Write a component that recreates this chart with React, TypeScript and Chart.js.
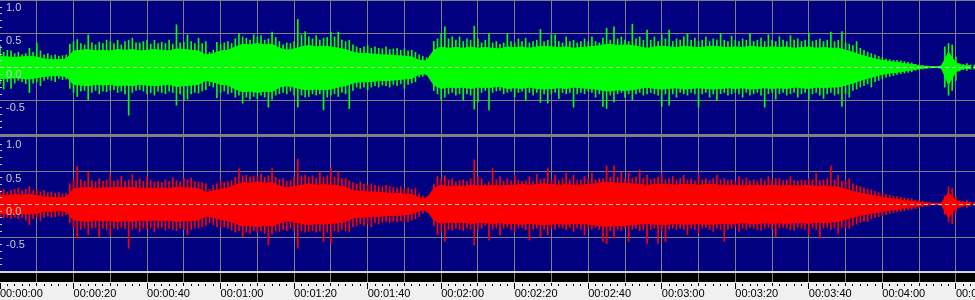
import React, { useEffect, useRef } from 'react';
import { Chart, registerables } from 'chart.js';

Chart.register(...registerables);

// ---- axis text ----
const TIME_LABELS = [
  '00:00:00', '00:00:20', '00:00:40', '00:01:00', '00:01:20', '00:01:40', '00:02:00',
  '00:02:20', '00:02:40', '00:03:00', '00:03:20', '00:03:40', '00:04:00', '00:04:20',
];
const Y_TICK_VALUES = [1, 0.5, 0, -0.5];
const Y_TICK_LABELS = ['1.0', '0.5', '0.0', '-0.5'];
const X_MAX_S = 265.2;

// ---- peak envelope per second (t = 0..265 s) ----
const GREEN_PEAK_HI = [
  .32, .22, .25, .24, .20, .22, .18, .20, .28, .22,
  .36, .24, .18, .20, .17, .18, .16, .17, .18, .34,
  .38, .41, .35, .33, .48, .36, .33, .37, .35, .40,
  .38, .35, .40, .33, .38, .40, .43, .36, .36, .38,
  .40, .34, .40, .35, .37, .35, .40, .34, .63, .36,
  .37, .48, .38, .35, .43, .35, .38, .22, .25, .37,
  .34, .36, .38, .35, .42, .50, .45, .43, .40, .48,
  .45, .47, .40, .42, .52, .44, .38, .33, .36, .35,
  .38, .71, .48, .53, .45, .42, .47, .40, .43, .44,
  .52, .45, .52, .40, .38, .40, .33, .30, .28, .30,
  .32, .28, .30, .28, .27, .30, .26, .27, .28, .25,
  .27, .24, .25, .22, .18, .16, .14, .15, .38, .42,
  .50, .60, .42, .45, .40, .45, .38, .42, .40, .61,
  .42, .36, .40, .50, .36, .38, .34, .36, .50, .38,
  .36, .42, .38, .43, .36, .38, .40, .56, .38, .40,
  .48, .48, .38, .36, .45, .38, .40, .36, .38, .42,
  .38, .45, .38, .36, .43, .58, .40, .60, .42, .45,
  .40, .38, .64, .42, .45, .40, .55, .40, .45, .38,
  .48, .42, .55, .38, .42, .40, .45, .50, .40, .43,
  .38, .40, .45, .38, .42, .40, .50, .40, .38, .46,
  .40, .38, .42, .40, .50, .38, .40, .43, .38, .48,
  .40, .38, .45, .40, .38, .47, .40, .42, .38, .40,
  .50, .38, .40, .42, .38, .40, .52, .38, .40, .53,
  .36, .34, .32, .38, .28, .25, .22, .20, .18, .16,
  .14, .12, .11, .10, .10, .09, .08, .07, .06, .04,
  .03, .02, .015, .01, .01, .01, .02, .30, .35, .33,
  .15, .05, .04, .05, .03, .03,
];
const GREEN_PEAK_LO = [
  -.25, -.33, -.22, -.32, -.24, -.20, -.22, -.25, -.38, -.24,
  -.22, -.28, -.20, -.18, -.20, -.22, -.17, -.19, -.18, -.32,
  -.38, -.44, -.36, -.35, -.49, -.38, -.35, -.40, -.36, -.37,
  -.35, -.34, -.38, -.36, -.40, -.72, -.38, -.35, -.34, -.36,
  -.40, -.38, -.42, -.36, -.38, -.40, -.36, -.38, -.57, -.40,
  -.49, -.48, -.40, -.38, -.39, -.36, -.34, -.28, -.30, -.46,
  -.38, -.36, -.40, -.38, -.45, -.42, -.54, -.45, -.48, -.44,
  -.47, -.42, -.45, -.60, -.48, -.42, -.40, -.38, -.40, -.36,
  -.42, -.60, -.42, -.45, -.44, -.40, -.42, -.40, -.64, -.45,
  -.42, -.40, -.44, -.38, -.40, -.62, -.35, -.30, -.32, -.30,
  -.34, -.30, -.28, -.30, -.27, -.28, -.30, -.26, -.28, -.25,
  -.32, -.26, -.24, -.22, -.15, -.14, -.12, -.14, -.35, -.40,
  -.49, -.45, -.40, -.38, -.42, -.40, -.49, -.40, -.42, -.63,
  -.52, -.38, -.35, -.64, -.38, -.36, -.35, -.40, -.38, -.36,
  -.45, -.38, -.36, -.50, -.38, -.42, -.38, -.53, -.40, -.54,
  -.40, -.38, -.47, -.38, -.40, -.38, -.60, -.40, -.38, -.40,
  -.36, -.38, -.45, -.40, -.59, -.62, -.42, -.52, -.40, -.38,
  -.45, -.40, -.49, -.40, -.38, -.42, -.40, -.38, -.40, -.42,
  -.59, -.40, -.57, -.40, -.45, -.38, -.40, -.42, -.38, -.40,
  -.60, -.40, -.38, -.45, -.40, -.50, -.40, -.38, -.42, -.40,
  -.38, -.40, -.45, -.38, -.42, -.40, -.38, -.42, -.60, -.40,
  -.38, -.48, -.40, -.38, -.42, -.40, -.38, -.45, -.40, -.38,
  -.50, -.40, -.38, -.42, -.47, -.40, -.38, -.42, -.40, -.59,
  -.40, -.45, -.35, -.33, -.30, -.28, -.25, -.30, -.22, -.20,
  -.18, -.15, -.14, -.13, -.11, -.10, -.09, -.08, -.07, -.05,
  -.04, -.03, -.02, -.015, -.01, -.01, -.02, -.30, -.42, -.35,
  -.20, -.06, -.04, -.05, -.03, -.03,
];
const RED_PEAK_HI = [
  .20, .22, .18, .20, .22, .24, .20, .22, .26, .20,
  .22, .18, .20, .17, .18, .16, .17, .15, .16, .30,
  .38, .56, .36, .34, .48, .35, .33, .38, .34, .36,
  .44, .34, .36, .41, .34, .36, .44, .35, .38, .34,
  .41, .35, .33, .34, .32, .36, .34, .39, .35, .33,
  .38, .36, .39, .34, .33, .32, .30, .22, .28, .30,
  .36, .32, .33, .35, .40, .53, .42, .43, .40, .42,
  .40, .45, .40, .42, .53, .40, .36, .38, .34, .35,
  .40, .67, .42, .43, .40, .42, .38, .48, .40, .42,
  .53, .40, .48, .38, .38, .35, .32, .30, .33, .30,
  .28, .30, .28, .27, .26, .28, .26, .25, .24, .26,
  .23, .24, .22, .23, .15, .12, .11, .13, .30, .41,
  .38, .42, .36, .38, .33, .35, .36, .34, .38, .66,
  .40, .38, .30, .33, .53, .36, .41, .34, .38, .35,
  .43, .36, .34, .35, .41, .34, .44, .36, .38, .53,
  .36, .43, .35, .38, .46, .36, .43, .35, .36, .41,
  .38, .46, .36, .38, .38, .57, .40, .57, .40, .48,
  .38, .46, .38, .40, .51, .38, .43, .36, .38, .40,
  .44, .36, .38, .41, .36, .38, .43, .36, .38, .35,
  .44, .36, .38, .35, .38, .43, .36, .38, .35, .36,
  .34, .41, .36, .39, .35, .36, .34, .38, .35, .41,
  .36, .38, .38, .35, .36, .41, .35, .34, .36, .35,
  .38, .36, .46, .35, .36, .38, .57, .36, .43, .34,
  .36, .38, .30, .28, .26, .24, .22, .21, .19, .17,
  .16, .14, .13, .12, .11, .10, .09, .08, .08, .06,
  .05, .04, .03, .02, .015, .01, .015, .12, .26, .23,
  .12, .05, .04, .05, .03, .02,
];
const RED_PEAK_LO = [
  -.18, -.21, -.20, -.22, -.20, -.22, -.20, -.24, -.31, -.22,
  -.20, -.25, -.20, -.18, -.20, -.19, -.17, -.18, -.16, -.28,
  -.36, -.51, -.38, -.36, -.46, -.36, -.35, -.49, -.36, -.38,
  -.46, -.36, -.38, -.35, -.37, -.66, -.38, -.36, -.41, -.36,
  -.38, -.35, -.41, -.36, -.35, -.39, -.36, -.38, -.40, -.36,
  -.38, -.46, -.38, -.36, -.36, -.34, -.32, -.28, -.31, -.34,
  -.36, -.34, -.36, -.39, -.42, -.40, -.49, -.42, -.44, -.40,
  -.42, -.40, -.44, -.61, -.45, -.40, -.41, -.38, -.40, -.36,
  -.40, -.66, -.40, -.42, -.41, -.40, -.42, -.40, -.56, -.42,
  -.59, -.40, -.42, -.38, -.40, -.41, -.34, -.32, -.30, -.32,
  -.30, -.34, -.28, -.30, -.27, -.26, -.28, -.26, -.27, -.25,
  -.28, -.26, -.24, -.22, -.19, -.14, -.12, -.13, -.32, -.46,
  -.40, -.56, -.38, -.39, -.36, -.38, -.40, -.36, -.38, -.61,
  -.39, -.36, -.32, -.54, -.38, -.36, -.46, -.36, -.35, -.38,
  -.41, -.36, -.35, -.38, -.54, -.38, -.36, -.49, -.38, -.46,
  -.36, -.38, -.35, -.36, -.38, -.35, -.41, -.36, -.38, -.46,
  -.36, -.38, -.35, -.38, -.56, -.59, -.40, -.51, -.38, -.40,
  -.36, -.56, -.38, -.36, -.40, -.38, -.59, -.38, -.36, -.59,
  -.40, -.56, -.38, -.36, -.38, -.36, -.38, -.46, -.36, -.38,
  -.44, -.36, -.35, -.38, -.41, -.36, -.38, -.56, -.38, -.36,
  -.35, -.41, -.36, -.38, -.35, -.36, -.38, -.39, -.36, -.35,
  -.38, -.49, -.36, -.35, -.36, -.38, -.39, -.35, -.36, -.38,
  -.46, -.36, -.38, -.51, -.36, -.35, -.38, -.36, -.44, -.35,
  -.36, -.36, -.32, -.30, -.28, -.26, -.26, -.22, -.20, -.19,
  -.18, -.16, -.14, -.13, -.12, -.11, -.10, -.09, -.08, -.07,
  -.05, -.04, -.03, -.02, -.015, -.01, -.015, -.15, -.26, -.29,
  -.14, -.05, -.04, -.05, -.03, -.02,
];

// ---- dense body envelope every 2 s (t = 0..264 s) ----
const GREEN_BODY_HI = [
  .16, .15, .14, .15, .16, .15, .12, .11, .11, .12,
  .24, .25, .26, .24, .25, .24, .26, .25, .26, .24,
  .25, .26, .25, .24, .27, .26, .25, .24, .18, .20,
  .24, .25, .30, .34, .33, .35, .33, .34, .28, .25,
  .27, .30, .32, .30, .31, .30, .28, .26, .22, .20,
  .20, .19, .18, .18, .17, .16, .15, .10, .09, .25,
  .30, .28, .29, .28, .30, .28, .29, .28, .27, .30,
  .29, .30, .28, .30, .31, .30, .29, .30, .28, .29,
  .30, .31, .33, .34, .32, .33, .32, .30, .28, .30,
  .31, .30, .29, .31, .30, .29, .30, .31, .30, .29,
  .30, .29, .31, .30, .29, .30, .29, .30, .28, .29,
  .30, .28, .29, .28, .28, .25, .22, .18, .15, .12,
  .10, .08, .07, .05, .04, .02, .01, .005, .01, .22,
  .06, .02, .02,
];
const GREEN_BODY_LO = [
  -.17, -.17, -.16, -.17, -.18, -.16, -.14, -.13, -.13, -.14,
  -.26, -.27, -.28, -.26, -.27, -.26, -.28, -.27, -.28, -.26,
  -.27, -.28, -.27, -.26, -.29, -.28, -.27, -.26, -.20, -.22,
  -.26, -.27, -.33, -.37, -.36, -.38, -.36, -.37, -.30, -.28,
  -.30, -.33, -.34, -.33, -.34, -.33, -.30, -.28, -.24, -.22,
  -.22, -.21, -.20, -.20, -.19, -.18, -.17, -.11, -.10, -.27,
  -.32, -.30, -.31, -.30, -.32, -.30, -.31, -.30, -.29, -.32,
  -.31, -.32, -.30, -.32, -.33, -.32, -.31, -.32, -.30, -.31,
  -.32, -.33, -.35, -.36, -.34, -.35, -.34, -.32, -.30, -.32,
  -.33, -.32, -.31, -.33, -.32, -.31, -.32, -.33, -.32, -.31,
  -.32, -.31, -.33, -.32, -.31, -.32, -.31, -.32, -.30, -.31,
  -.32, -.30, -.31, -.30, -.30, -.27, -.24, -.20, -.17, -.14,
  -.11, -.09, -.08, -.06, -.045, -.025, -.012, -.006, -.012, -.26,
  -.07, -.025, -.02,
];
const RED_BODY_HI = [
  .13, .13, .14, .13, .14, .13, .10, .10, .09, .10,
  .23, .24, .25, .23, .24, .24, .25, .24, .25, .23,
  .24, .23, .24, .23, .25, .24, .24, .23, .17, .19,
  .22, .24, .28, .32, .31, .33, .31, .32, .27, .24,
  .26, .28, .30, .28, .29, .28, .27, .25, .20, .19,
  .18, .18, .17, .16, .16, .15, .14, .09, .08, .23,
  .28, .26, .27, .26, .28, .27, .27, .28, .27, .28,
  .28, .29, .28, .29, .30, .29, .28, .29, .28, .28,
  .29, .30, .32, .32, .31, .31, .30, .29, .28, .29,
  .30, .29, .28, .29, .29, .28, .29, .29, .28, .28,
  .28, .27, .28, .28, .27, .28, .27, .28, .27, .27,
  .28, .26, .27, .26, .25, .22, .19, .16, .14, .12,
  .10, .08, .07, .05, .04, .025, .012, .006, .01, .17,
  .05, .02, .015,
];
const RED_BODY_LO = [
  -.14, -.15, -.15, -.14, -.15, -.14, -.11, -.11, -.10, -.11,
  -.24, -.25, -.26, -.24, -.25, -.25, -.26, -.25, -.26, -.24,
  -.25, -.24, -.25, -.24, -.26, -.25, -.25, -.24, -.18, -.20,
  -.23, -.25, -.29, -.33, -.32, -.34, -.32, -.33, -.28, -.25,
  -.27, -.29, -.31, -.29, -.30, -.29, -.28, -.26, -.21, -.20,
  -.19, -.19, -.18, -.17, -.17, -.16, -.15, -.10, -.09, -.24,
  -.29, -.27, -.28, -.27, -.29, -.28, -.28, -.29, -.28, -.29,
  -.29, -.30, -.29, -.30, -.31, -.30, -.29, -.30, -.29, -.29,
  -.30, -.31, -.33, -.33, -.32, -.32, -.31, -.30, -.29, -.30,
  -.31, -.30, -.29, -.30, -.30, -.29, -.30, -.30, -.29, -.29,
  -.29, -.28, -.29, -.29, -.28, -.29, -.28, -.29, -.28, -.28,
  -.29, -.27, -.28, -.27, -.26, -.23, -.20, -.17, -.15, -.13,
  -.11, -.09, -.08, -.06, -.045, -.028, -.014, -.007, -.012, -.20,
  -.06, -.022, -.017,
];

const PEAK_STEP_S = 1;
const BODY_STEP_S = 2;

// ---- styles ----
const NAVY = '#000080';
const GRID = '#808080';
const GREEN = '#00ff00';
const RED = '#ff0000';
const LABEL = '#c8c8c8';
const AXIS_BG = '#f0f0f0';
const AXIS_H = 18;
const FONT = '11px "Liberation Sans", Arial, sans-serif';

const GRID_SECONDS = Array.from({ length: 27 }, (_, i) => i * 10);
const MINOR_SECONDS = Array.from({ length: 133 }, (_, i) => i * 2);

const toLine = (vals: number[], step: number) => vals.map((v, i) => ({ x: i * step, y: v }));
const toBars = (hi: number[], lo: number[], step: number) =>
  hi.map((h, i) => ({ x: i * step, y: [lo[i], h] }));

const decor = {
  id: 'waveDecor',
  beforeDraw(chart: any) {
    const { ctx, width, height, chartArea } = chart;
    const yBot = chart.scales.yBot;
    const botEnd = Math.round(yBot.getPixelForValue(-1));
    ctx.save();
    ctx.fillStyle = AXIS_BG;
    ctx.fillRect(0, 0, width, height);
    ctx.fillStyle = NAVY;
    ctx.fillRect(0, chartArea.top, width, botEnd - chartArea.top);
    ctx.fillStyle = '#000000';
    ctx.fillRect(0, botEnd + 2, width, chartArea.bottom - botEnd - 2);
    ctx.restore();
  },
  beforeDatasetsDraw(chart: any) {
    const { ctx, width } = chart;
    const yTop = chart.scales.yTop;
    const yBot = chart.scales.yBot;
    ctx.save();
    ctx.fillStyle = GRID;
    ctx.fillRect(0, Math.round(yTop.getPixelForValue(1)), width, 1);
    [0.5, -0.5].forEach((v) => {
      ctx.fillRect(0, Math.round(yTop.getPixelForValue(v)), width, 1);
      ctx.fillRect(0, Math.round(yBot.getPixelForValue(v)), width, 1);
    });
    ctx.fillRect(0, Math.round(yTop.getPixelForValue(-1)), width, 3);
    const botEnd = Math.round(yBot.getPixelForValue(-1));
    ctx.fillStyle = '#d8d8d8';
    ctx.fillRect(0, botEnd, width, 2);
    ctx.restore();
  },
  afterDatasetsDraw(chart: any) {
    const { ctx, width } = chart;
    const panels = [chart.scales.yTop, chart.scales.yBot];
    ctx.save();
    panels.forEach((s: any) => {
      const y0 = Math.round(s.getPixelForValue(0)) + 0.5;
      ctx.strokeStyle = LABEL;
      ctx.lineWidth = 1;
      ctx.setLineDash([4, 3]);
      ctx.beginPath();
      ctx.moveTo(0, y0);
      ctx.lineTo(width, y0);
      ctx.stroke();
      ctx.setLineDash([]);
      ctx.fillStyle = LABEL;
      for (let k = -9; k <= 9; k++) {
        if (k % 5 === 0) continue;
        ctx.fillRect(0, Math.round(s.getPixelForValue(k / 10)), 2, 1);
      }
      ctx.font = FONT;
      ctx.textAlign = 'left';
      ctx.textBaseline = 'alphabetic';
      Y_TICK_VALUES.forEach((v, i) => {
        ctx.fillText(Y_TICK_LABELS[i], 6, Math.round(s.getPixelForValue(v)) + 11);
      });
    });
    ctx.restore();
  },
  afterDraw(chart: any) {
    const { ctx, chartArea } = chart;
    const x = chart.scales.x;
    const top = chartArea.bottom;
    ctx.save();
    ctx.fillStyle = '#000000';
    MINOR_SECONDS.forEach((t) => {
      const px = Math.floor(x.getPixelForValue(t));
      if (t % 20 === 0) ctx.fillRect(px, top + 1, 1, 6);
      else if (t % 10 === 0) ctx.fillRect(px, top + 1, 1, 3);
      else ctx.fillRect(px, top + 2, 1, 2);
    });
    ctx.restore();
  },
};

export default function App() {
  const ref = useRef<HTMLCanvasElement | null>(null);
  useEffect(() => {
    document.body.style.margin = '0';
    const lineDs = (data: any[], axis: string, color: string, fill: any) => ({
      type: 'line',
      data,
      yAxisID: axis,
      xAxisID: 'x',
      borderColor: color,
      backgroundColor: color,
      borderWidth: 1,
      pointRadius: 0,
      tension: 0,
      fill,
    });
    const barDs = (data: any[], axis: string, color: string) => ({
      type: 'bar',
      data,
      yAxisID: axis,
      xAxisID: 'x',
      backgroundColor: color,
      borderWidth: 0,
      barThickness: 1,
      grouped: false,
    });
    const chart = new Chart(ref.current as HTMLCanvasElement, {
      type: 'bar',
      data: {
        datasets: [
          lineDs(toLine(GREEN_BODY_HI, BODY_STEP_S), 'yTop', GREEN, '+1'),
          lineDs(toLine(GREEN_BODY_LO, BODY_STEP_S), 'yTop', GREEN, false),
          barDs(toBars(GREEN_PEAK_HI, GREEN_PEAK_LO, PEAK_STEP_S), 'yTop', GREEN),
          lineDs(toLine(RED_BODY_HI, BODY_STEP_S), 'yBot', RED, '+1'),
          lineDs(toLine(RED_BODY_LO, BODY_STEP_S), 'yBot', RED, false),
          barDs(toBars(RED_PEAK_HI, RED_PEAK_LO, PEAK_STEP_S), 'yBot', RED),
        ] as any,
      },
      options: {
        animation: false,
        responsive: false,
        devicePixelRatio: 1,
        events: [],
        layout: { padding: 0, autoPadding: false } as any,
        plugins: { legend: { display: false }, tooltip: { enabled: false } },
        scales: {
          x: {
            type: 'linear',
            position: 'bottom',
            min: 0,
            max: X_MAX_S,
            offset: false,
            afterBuildTicks: (scale: any) => {
              scale.ticks = GRID_SECONDS.map((v) => ({ value: v }));
            },
            afterFit: (scale: any) => {
              scale.height = AXIS_H;
              scale.paddingLeft = 0;
              scale.paddingRight = 0;
              scale.paddingTop = 0;
              scale.paddingBottom = 0;
            },
            grid: {
              offset: false,
              drawTicks: false,
              lineWidth: 1,
              color: (c: any) => (c.tick && c.tick.value === 0 ? 'rgba(0,0,0,0)' : GRID),
            },
            border: { display: false },
            ticks: {
              autoSkip: false,
              maxRotation: 0,
              minRotation: 0,
              align: 'start',
              padding: 5,
              color: '#000000',
              font: { family: '"Liberation Sans", Arial, sans-serif', size: 11 },
              callback: (v: any) => (Number(v) % 20 === 0 ? TIME_LABELS[Number(v) / 20] : ''),
            },
          },
          yTop: { type: 'linear', display: false, min: 1 - 282 / 67, max: 1 },
          yBot: { type: 'linear', display: false, min: 204 / 67 - 282 / 67, max: 204 / 67 },
        } as any,
      },
      plugins: [decor as any],
    } as any);
    return () => chart.destroy();
  }, []);
  return (
    <div style={{ position: 'absolute', left: 0, top: 0, width: 975, height: 300 }}>
      <canvas ref={ref} width={975} height={300} style={{ display: 'block', width: 975, height: 300 }} />
    </div>
  );
}
